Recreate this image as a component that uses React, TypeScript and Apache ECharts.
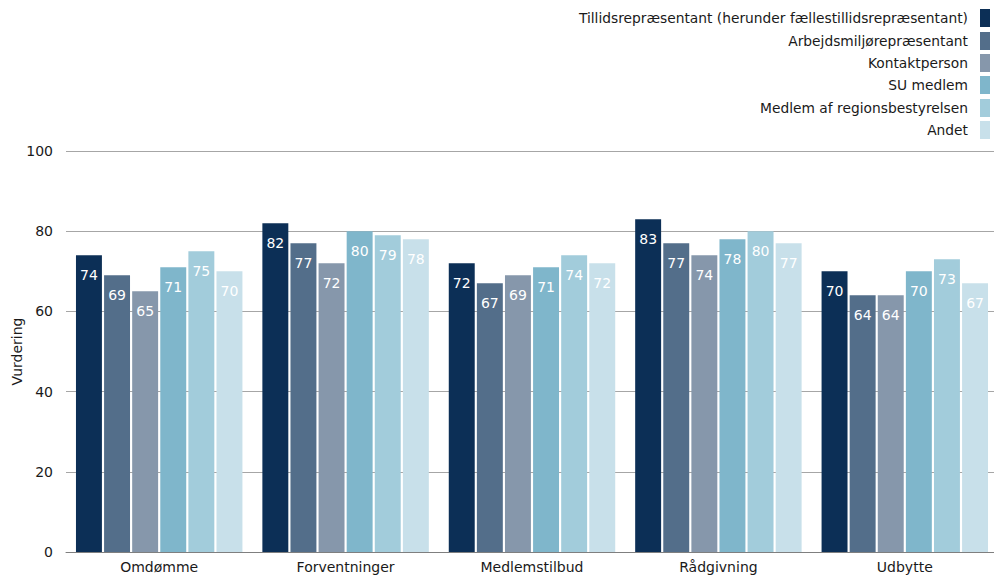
import React, { useEffect, useRef } from "react";
import * as echarts from "echarts";

const categories = ["Omdømme", "Forventninger", "Medlemstilbud", "Rådgivning", "Udbytte"];
const seriesNames = [
  "Tillidsrepræsentant (herunder fællestillidsrepræsentant)",
  "Arbejdsmiljørepræsentant",
  "Kontaktperson",
  "SU medlem",
  "Medlem af regionsbestyrelsen",
  "Andet",
];
const tillids = [74, 82, 72, 83, 70];
const arbejdsmiljo = [69, 77, 67, 77, 64];
const kontakt = [65, 72, 69, 74, 64];
const suMedlem = [71, 80, 71, 78, 70];
const regionsbestyrelse = [75, 79, 74, 80, 73];
const andet = [70, 78, 72, 77, 67];
const yTicks = [0, 20, 40, 60, 80, 100];

const colors = ["#0c2f56", "#536e8a", "#8697ab", "#7fb6cb", "#a2ccdb", "#c8e0ea"];
const FONT = "DejaVu Sans";

export default function App() {
  const ref = useRef<HTMLDivElement>(null);
  useEffect(() => {
    if (!ref.current) return;
    const chart = echarts.init(ref.current, undefined, { renderer: "svg" });
    const values = [tillids, arbejdsmiljo, kontakt, suMedlem, regionsbestyrelse, andet];
    const legendTops = [9, 32, 54, 76, 99, 121];
    chart.setOption({
      animation: false,
      textStyle: { fontFamily: FONT },
      legend: seriesNames.map((n, i) => ({
        data: [n],
        orient: "vertical",
        align: "right",
        right: 4,
        top: legendTops[i],
        itemWidth: 10,
        itemHeight: 18,
        icon: "rect",
        selectedMode: false,
        padding: 0,
        textStyle: { fontFamily: FONT, fontSize: 13.8, color: "#1a1a1a", padding: [0, 7, 0, 0] },
      })),
      grid: { left: 66, right: -4, top: 151, bottom: 26, containLabel: false, outerBoundsMode: "none" },
      xAxis: {
        type: "category",
        data: categories,
        axisTick: { show: false },
        axisLine: { lineStyle: { color: "#7f7f7f", width: 1 } },
        axisLabel: { fontFamily: FONT, fontSize: 14, color: "#1a1a1a", margin: 8 },
      },
      yAxis: {
        type: "value",
        min: yTicks[0],
        max: yTicks[yTicks.length - 1],
        interval: 20,
        name: "Vurdering",
        nameLocation: "middle",
        nameGap: 42,
        nameMoveOverlap: false,
        nameTextStyle: { fontFamily: FONT, fontSize: 14, color: "#1a1a1a" },
        axisLine: { show: false },
        axisTick: { show: false },
        axisLabel: { fontFamily: FONT, fontSize: 14, color: "#1a1a1a", margin: 13 },
        splitLine: { lineStyle: { color: "#a6a6a6", width: 1 } },
      },
      series: seriesNames.map((n, i) => ({
        name: n,
        type: "bar",
        data: values[i],
        barGap: "8.3%",
        barCategoryGap: "10.7%",
        itemStyle: { color: colors[i] },
        label: {
          show: true,
          position: "insideTop",
          distance: 13,
          color: "#ffffff",
          fontFamily: FONT,
          fontSize: 14,
        },
      })),
    });
    return () => chart.dispose();
  }, []);
  return <div ref={ref} style={{ width: 994, height: 578, position: "absolute", left: 0, top: 0 }} />;
}
